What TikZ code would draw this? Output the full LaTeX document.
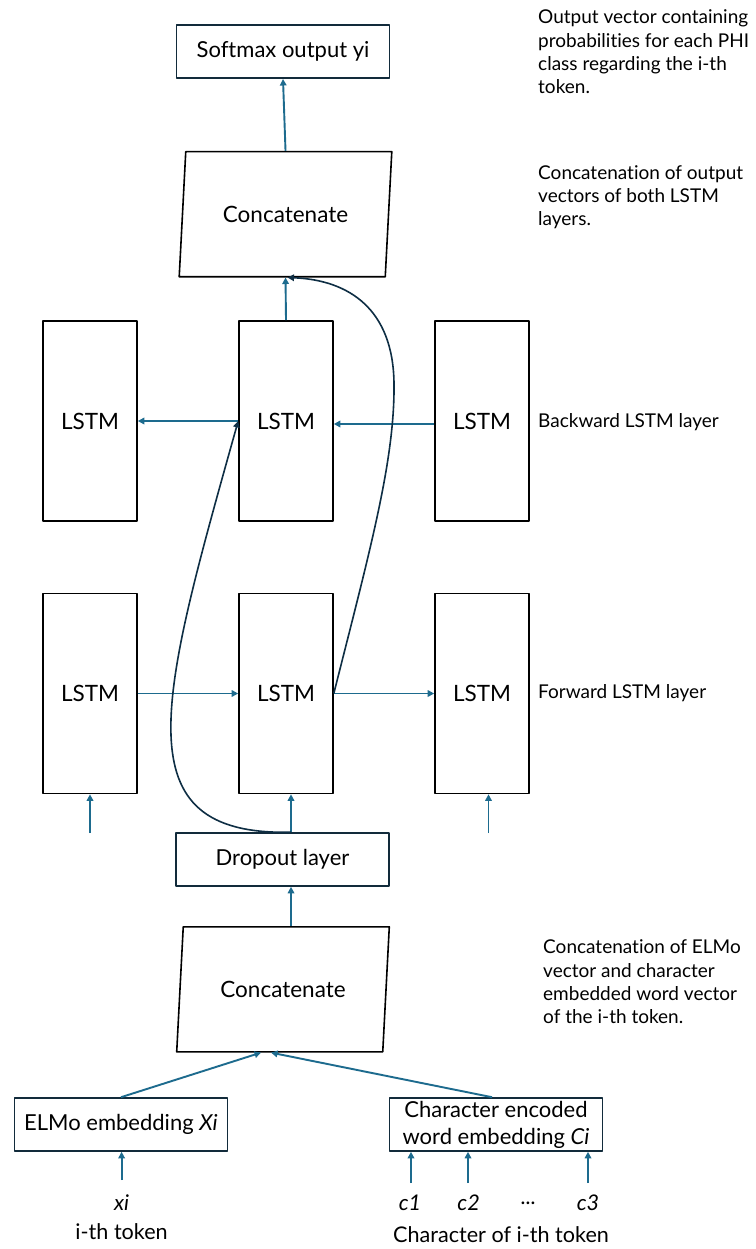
\documentclass[tikz,border=0pt]{standalone}
\usepackage{fontspec}
\setmainfont{Lato}[Ligatures=NoCommon]
\usetikzlibrary{arrows.meta,shapes.geometric}
\definecolor{flowblue}{HTML}{1D6B8E}
\definecolor{curvenavy}{HTML}{0E2E44}
\definecolor{framenavy}{HTML}{122B3B}
\begin{document}
\begin{tikzpicture}[x=1pt,y=-1pt,>={Triangle[length=6.5pt,width=6.5pt]},line join=round,
	lstm/.style={draw=black,line width=1.6pt,minimum width=94pt,minimum height=200pt,inner sep=0pt,font=\fontsize{22.5}{26}\selectfont},
	layerbox/.style={draw=framenavy,line width=1.6pt,minimum width=213pt,minimum height=53pt,inner sep=0pt,font=\fontsize{22}{27}\selectfont},
	concatbox/.style={draw=black,line width=1.6pt,trapezium,trapezium left angle=76,trapezium right angle=104,trapezium stretches=true,minimum width=213pt,minimum height=125pt,inner sep=0pt,font=\fontsize{22.5}{26}\selectfont},
	flow/.style={->,draw=flowblue,line width=1.9pt},
	skip/.style={->,draw=curvenavy,line width=1.6pt},
	note/.style={anchor=west,align=left,inner sep=0pt,font=\fontsize{19}{23.3}\selectfont},
	lbl/.style={inner sep=0pt,font=\fontsize{21.6}{25}\selectfont}]
	\fill[white] (0,0) rectangle (755,1249);
	% top part
	\node[layerbox] (softmax) at (283,51.7) {Softmax output yi};
	\node[concatbox] (concattop) at (285.5,214.2) {Concatenate};
	% backward layer
	\node[lstm] (bl) at (90,421) {LSTM};
	\node[lstm] (bm) at (286,421) {LSTM};
	\node[lstm] (br) at (482,421) {LSTM};
	% forward layer
	\node[lstm] (fl) at (90,693.5) {LSTM};
	\node[lstm] (fm) at (286,693.5) {LSTM};
	\node[lstm] (fr) at (482,693.5) {LSTM};
	% bottom part
	\node[layerbox] (dropout) at (282.5,859.5) {Dropout layer};
	\node[concatbox] (concatbot) at (283,989.3) {Concatenate};
	\node[layerbox] (elmo) at (121,1124.5) {ELMo embedding \textit{Xi}};
	\node[layerbox,align=center] (charemb) at (496,1124.5) {Character encoded\\word embedding \textit{Ci}};
	\node[lbl] (xi) at (121.6,1203) {\textit{xi}};
	\node[lbl] (tok) at (121.6,1232) {i-th token};
	\node[lbl] (c1) at (410,1203) {\textit{c1}};
	\node[lbl] (c2) at (468.6,1203) {\textit{c2}};
	\node[lbl] (cdots) at (528.6,1203) {\textit{...}};
	\node[lbl] (c3) at (588,1203) {\textit{c3}};
	\node[lbl] (chartok) at (501,1235) {Character of i-th token};
	% notes on the right
	\node[note] (outnote) at (538,52) {Output vector containing\\probabilities for each PHI\\class regarding the i-th\\token.};
	\node[note] (catnote) at (538,197) {Concatenation of output\\vectors of both LSTM\\layers.};
	\node[note] (bwnote) at (538,421.7) {Backward LSTM layer};
	\node[note] (fwnote) at (538,693) {Forward LSTM layer};
	\node[note] (embnote) at (543,982) {Concatenation of ELMo\\vector and character\\embedded word vector\\of the i-th token.};
	% arrows
	\draw[flow] (concattop.north) -- (softmax.south);
	\draw[flow] (bm.north) -- (concattop.south);
	\draw[flow] (bm.west) -- (bl.east);
	\draw[flow] ([yshift=-3pt]br.west) -- ([yshift=-3pt]bm.east);
	\draw[flow] (fl.east) -- (fm.west);
	\draw[flow] (fm.east) -- (fr.west);
	\coordinate (inl) at (90,833);
	\coordinate (inr) at (488.5,833);
	\draw[flow] (inl) -- (fl.south);
	\draw[flow] (inr) -- (inr |- fr.south);
	\draw[flow] ([xshift=8.5pt]dropout.north) -- ([xshift=8.5pt]dropout.north |- fm.south);
	\draw[flow] ([xshift=8pt]concatbot.north) -- ([xshift=8pt]concatbot.north |- dropout.south);
	\draw[flow] (elmo.north) -- ([xshift=-22pt]concatbot.south);
	\draw[flow] ([xshift=-4pt]charemb.north) -- ([xshift=-12pt]concatbot.south);
	\coordinate (xin) at (121.6,1180);
	\draw[flow] (xin) -- (xin |- elmo.south);
	\foreach \x in {411,468,588}
		\draw[flow] (\x,1183) -- (\x,1183 |- charemb.south);
	% skip curves
	\draw[skip] ([xshift=8.5pt]dropout.north) .. controls (120,836) and (160,700) .. (bm.west);
	\draw[skip] (fm.east) .. controls (370,550) and (395,460) .. (394,383) .. controls (393,310) and (350,280) .. ([xshift=2pt]concattop.south);
\end{tikzpicture}
\end{document}
